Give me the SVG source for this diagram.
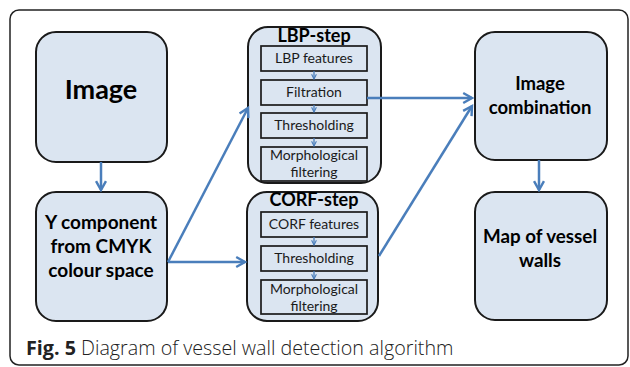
<svg xmlns="http://www.w3.org/2000/svg" width="630" height="367" viewBox="0 0 630 367">
<style>
.box{fill:#dbe5f1;stroke:#1a1a1a;stroke-width:2}
.inner{fill:#dbe5f1;stroke:#1a1a1a;stroke-width:1.7}
.big{font-family:Lato,"Open Sans","Liberation Sans",sans-serif;font-weight:bold;fill:#000;text-anchor:middle}
.sm{font-family:Lato,"Open Sans","Liberation Sans",sans-serif;font-size:14px;fill:#1a1a1a;text-anchor:middle}
.conn{stroke:#4a7ebb;stroke-width:2.5;fill:none}
.cs{stroke:#4a7ebb;stroke-width:1.3;fill:none}
</style>
<defs>
<marker id="ah" viewBox="0 0 10 10" refX="9" refY="5" markerWidth="11" markerHeight="11" markerUnits="userSpaceOnUse" orient="auto" overflow="visible">
<path d="M1,0.5 L9,5 L1,9.5" fill="none" stroke="#4a7ebb" stroke-width="2.2"/>
</marker>
<marker id="ahs" viewBox="0 0 10 10" refX="9" refY="5" markerWidth="6" markerHeight="6" markerUnits="userSpaceOnUse" orient="auto" overflow="visible">
<path d="M1,1 L9,5 L1,9" fill="none" stroke="#4a7ebb" stroke-width="1.8"/>
</marker>
</defs>
<rect x="0" y="0" width="630" height="367" fill="#fff"/>
<rect x="10" y="10" width="618" height="355" rx="9" fill="none" stroke="#222" stroke-width="1.5"/>

<g id="image">
<rect class="box" x="36" y="32" width="131" height="130" rx="20"/>
<text class="big" x="101" y="99" font-size="27">Image</text>
</g>
<g id="ycomp">
<rect class="box" x="36" y="192" width="131" height="129" rx="20"/>
<text class="big" x="101" y="229" font-size="19">Y component</text>
<text class="big" x="101" y="253" font-size="19">from CMYK</text>
<text class="big" x="101" y="277" font-size="19">colour space</text>
</g>
<g id="lbp">
<rect class="box" x="248" y="27" width="133" height="156" rx="20"/>
<text class="big" x="314" y="42" font-size="18">LBP-step</text>
<rect class="inner" x="261" y="46" width="106" height="25"/>
<text class="sm" x="314" y="63">LBP features</text>
<rect class="inner" x="261" y="80" width="106" height="25"/>
<text class="sm" x="314" y="97">Filtration</text>
<rect class="inner" x="261" y="113" width="106" height="25"/>
<text class="sm" x="314" y="130">Thresholding</text>
<rect class="inner" x="261" y="147" width="106" height="34"/>
<text class="sm" x="314" y="160">Morphological</text>
<text class="sm" x="314" y="177">filtering</text>
</g>
<g id="corf">
<rect class="box" x="247" y="192" width="131" height="129" rx="20"/>
<text class="big" x="314" y="206" font-size="18">CORF-step</text>
<rect class="inner" x="261" y="212" width="106" height="25"/>
<text class="sm" x="314" y="229">CORF features</text>
<rect class="inner" x="261" y="246" width="106" height="25"/>
<text class="sm" x="314" y="263">Thresholding</text>
<rect class="inner" x="261" y="280" width="106" height="34"/>
<text class="sm" x="314" y="294">Morphological</text>
<text class="sm" x="314" y="311">filtering</text>
</g>
<g id="combo">
<rect class="box" x="475" y="32" width="132" height="128" rx="20"/>
<text class="big" x="540" y="90" font-size="18.5">Image</text>
<text class="big" x="540" y="114" font-size="18.5">combination</text>
</g>
<g id="map">
<rect class="box" x="475" y="192" width="132" height="128" rx="20"/>
<text class="big" x="540" y="243" font-size="18.8">Map of vessel</text>
<text class="big" x="540" y="267" font-size="18.8">walls</text>
</g>

<g id="connectors">
<line class="conn" x1="101" y1="162" x2="101" y2="190" marker-end="url(#ah)"/>
<line class="conn" x1="168" y1="262" x2="248" y2="108" marker-end="url(#ah)"/>
<line class="conn" x1="168" y1="262" x2="245" y2="262" marker-end="url(#ah)"/>
<line class="conn" x1="367" y1="98" x2="472" y2="98" marker-end="url(#ah)"/>
<line class="conn" x1="379" y1="256" x2="472" y2="106" marker-end="url(#ah)"/>
<line class="conn" x1="539" y1="160" x2="539" y2="190" marker-end="url(#ah)"/>
<line class="cs" x1="314" y1="71" x2="314" y2="79" marker-end="url(#ahs)"/>
<line class="cs" x1="314" y1="105" x2="314" y2="112" marker-end="url(#ahs)"/>
<line class="cs" x1="314" y1="138" x2="314" y2="146" marker-end="url(#ahs)"/>
<line class="cs" x1="314" y1="237" x2="314" y2="245" marker-end="url(#ahs)"/>
<line class="cs" x1="314" y1="271" x2="314" y2="279" marker-end="url(#ahs)"/>
</g>

<text x="26" y="355" font-family="'Open Sans','Liberation Sans',sans-serif" font-size="19.7" fill="#222"><tspan font-weight="bold">Fig. 5</tspan><tspan font-weight="300"> Diagram of vessel wall detection algorithm</tspan></text>
</svg>
